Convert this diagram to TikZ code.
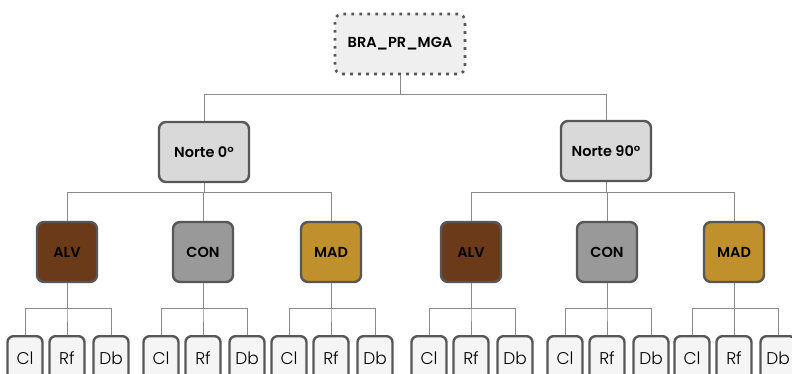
\documentclass[tikz,border=0pt]{standalone}
\usepackage{fontspec}
\setmainfont{Poppins}[UprightFont={Poppins Light}, BoldFont={Poppins SemiBold}]
\usetikzlibrary{calc}
\definecolor{edgegray}{HTML}{8A8A8A}
\definecolor{boxline}{HTML}{575757}
\definecolor{rootfill}{HTML}{EFEFEF}
\definecolor{nortefill}{HTML}{D9D9D9}
\definecolor{alvfill}{HTML}{6B3A18}
\definecolor{confill}{HTML}{999999}
\definecolor{madfill}{HTML}{BF902C}
\definecolor{leaffill}{HTML}{F5F5F5}
\tikzset{
  base/.style={rounded corners=7pt, line width=2.4pt, draw=boxline, inner sep=0pt, align=center},
  rootbox/.style={base, fill=rootfill, draw=boxline, line width=2.6pt, dash pattern=on 2.6pt off 5.4pt,
    minimum width=130pt, minimum height=60pt, font=\fontsize{14.5}{17}\selectfont\bfseries},
  nortebox/.style={base, fill=nortefill, minimum width=90pt, minimum height=60pt, font=\fontsize{14.5}{17}\selectfont\bfseries},
  catbox/.style={base, minimum width=60pt, minimum height=60pt, font=\fontsize{14.5}{17}\selectfont\bfseries},
  leafbox/.style={base, fill=leaffill, minimum width=35pt, minimum height=44pt,
    font=\fontsize{17}{18}\selectfont, anchor=north, rounded corners=6pt},
  link/.style={draw=edgegray, line width=1pt}
}
\begin{document}
\begin{tikzpicture}[x=1pt,y=-1pt]
\useasboundingbox (0,0) rectangle (792,374);
\begin{scope}
\clip (0,0) rectangle (792,374);

% bus heights of the three connector levels
\coordinate (bus0) at (0,95);
\coordinate (bus1) at (0,193);
\coordinate (bus2) at (0,308);

% top of the tree
\node[rootbox] (root) at (400,44) {BRA\_PR\_MGA};
\node[nortebox] (n0) at (204,152) {Norte 0°};
\node[nortebox] (n90) at (606,151) {Norte 90°};

\draw[link] (root.south) -- (root.south |- bus0) -| (n0.north);
\draw[link] (root.south |- bus0) -| (n90.north);

% material groups under each orientation
\foreach \o/\xa/\xb/\xc in {n0/67/203/331, n90/471/607/734}{
  \foreach \m/\col/\cx in {ALV/alvfill/\xa, CON/confill/\xb, MAD/madfill/\xc}{
    \node[catbox, fill=\col] (\o\m) at (\cx,252) {\m};
    \draw[link] (\o.south) -- (\o.south |- bus1) -| (\o\m.north);
    % test types under each material
    \foreach \t/\tx in {Cl/-42, Rf/0, Db/44}{
      \node[leafbox] (\o\m\t) at (\cx+\tx,335) {\t};
      \draw[link] (\o\m.south) -- (\o\m.south |- bus2) -| (\o\m\t.north);
    }
  }
}
\end{scope}
\end{tikzpicture}
\end{document}
